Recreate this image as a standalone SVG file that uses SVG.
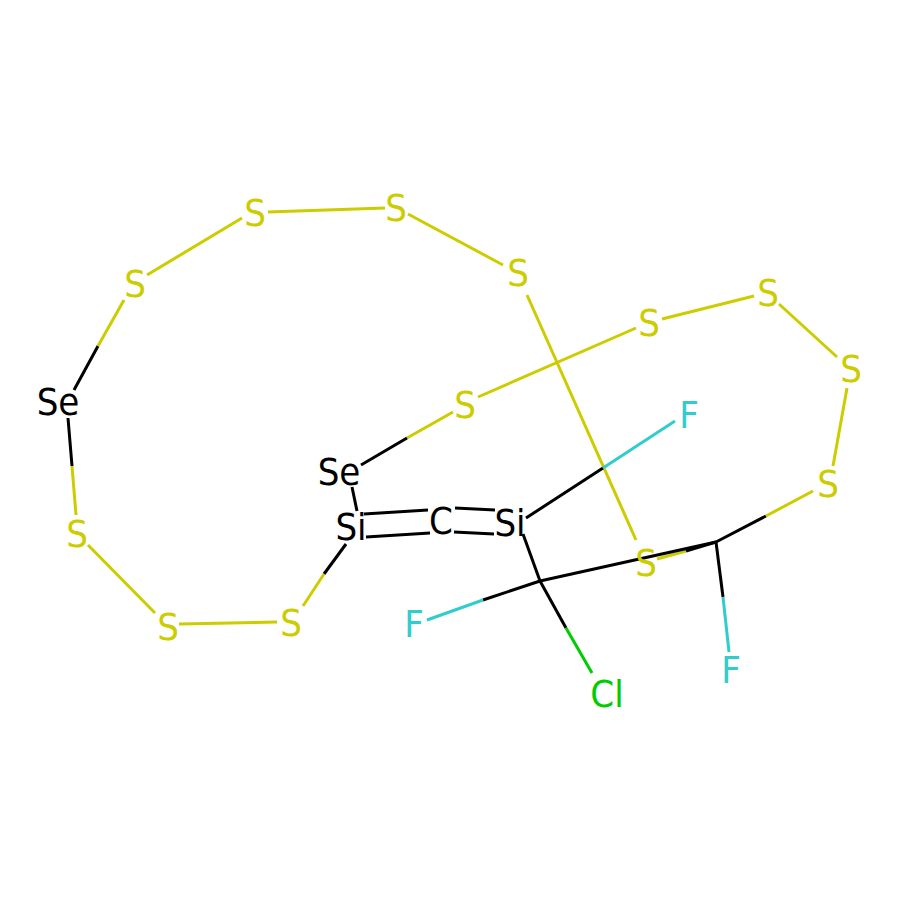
<svg xmlns="http://www.w3.org/2000/svg" width="900" height="900" viewBox="0 0 900 900">
<style>
.b{fill:none;stroke-width:3;stroke-linecap:butt}
.k{stroke:#000}.y{stroke:#CCCC00}.c{stroke:#33CCCC}.g{stroke:#00CC00}
text{font-family:"DejaVu Sans Condensed","DejaVu Sans",sans-serif;font-stretch:condensed;font-size:38px;text-anchor:middle}
.tk{fill:#000}.ty{fill:#CCCC00}.tc{fill:#33CCCC}.tg{fill:#00CC00}
</style>
<rect width="900" height="900" fill="#fff"/>
<g id="connectors" class="b">
<path class="k" d="M74 390L98 346"/><path class="y" d="M98 346L124 300"/>
<path class="y" d="M147 275L242 218"/>
<path class="y" d="M268 212L385 208"/>
<path class="y" d="M408 214L503 265"/>
<path class="y" d="M527 295L636 540"/>
<path class="y" d="M657 559L686 551"/><path class="k" d="M686 551L716 542"/>
<path class="k" d="M540 581L716 542"/>
<path class="k" d="M716 542L723 597"/><path class="c" d="M723 597L729 652"/>
<path class="k" d="M716 542L766 516"/><path class="y" d="M766 516L813 491"/>
<path class="y" d="M833 466L847 388"/>
<path class="y" d="M837 357L779 304"/>
<path class="y" d="M754 296L662 319"/>
<path class="y" d="M636 328L478 397"/>
<path class="y" d="M453 412L407 438"/><path class="k" d="M407 438L361 465"/>
<path class="k" d="M352 487L357 511"/>
<path class="k" d="M364 514L428 510"/><path class="k" d="M366 537L430 533"/>
<path class="k" d="M455 508L495 510"/><path class="k" d="M454 532L494 534"/>
<path class="k" d="M526 518L603 468"/><path class="c" d="M603 468L675 421"/>
<path class="k" d="M523 534L540 581"/>
<path class="k" d="M540 581L483 600"/><path class="c" d="M483 600L427 620"/>
<path class="k" d="M540 581L566 628"/><path class="g" d="M566 628L592 673"/>
<path class="k" d="M346 544L324 574"/><path class="y" d="M324 574L303 606"/>
<path class="y" d="M277 622L179 624"/>
<path class="y" d="M155 613L88 545"/>
<path class="y" d="M76 515L72 466"/><path class="k" d="M72 466L68 418"/>
</g>
<g id="n1"><text class="tk" x="58" y="415">Se</text></g>
<g id="n2"><text class="ty" x="135" y="297">S</text></g>
<g id="n3"><text class="ty" x="255" y="226">S</text></g>
<g id="n4"><text class="ty" x="396" y="221">S</text></g>
<g id="n5"><text class="ty" x="518" y="286">S</text></g>
<g id="n6"><text class="ty" x="646" y="576">S</text></g>
<g id="n7"><text class="ty" x="828" y="497">S</text></g>
<g id="n8"><text class="ty" x="851" y="382">S</text></g>
<g id="n9"><text class="ty" x="768" y="306">S</text></g>
<g id="n10"><text class="ty" x="649" y="336">S</text></g>
<g id="n11"><text class="ty" x="465" y="418">S</text></g>
<g id="n12"><text class="tk" x="339" y="485">Se</text></g>
<g id="n13"><text class="tk" x="351" y="540">Si</text></g>
<g id="n14"><text class="tk" x="441" y="534">C</text></g>
<g id="n15"><text class="tk" x="510" y="536">Si</text></g>
<g id="n16"><text class="tc" x="689" y="428">F</text></g>
<g id="n17"><text class="tc" x="414" y="637">F</text></g>
<g id="n18"><text class="tg" x="607" y="707">Cl</text></g>
<g id="n19"><text class="tc" x="731" y="683">F</text></g>
<g id="n20"><text class="ty" x="291" y="636">S</text></g>
<g id="n21"><text class="ty" x="168" y="640">S</text></g>
<g id="n22"><text class="ty" x="77" y="547">S</text></g>
</svg>
